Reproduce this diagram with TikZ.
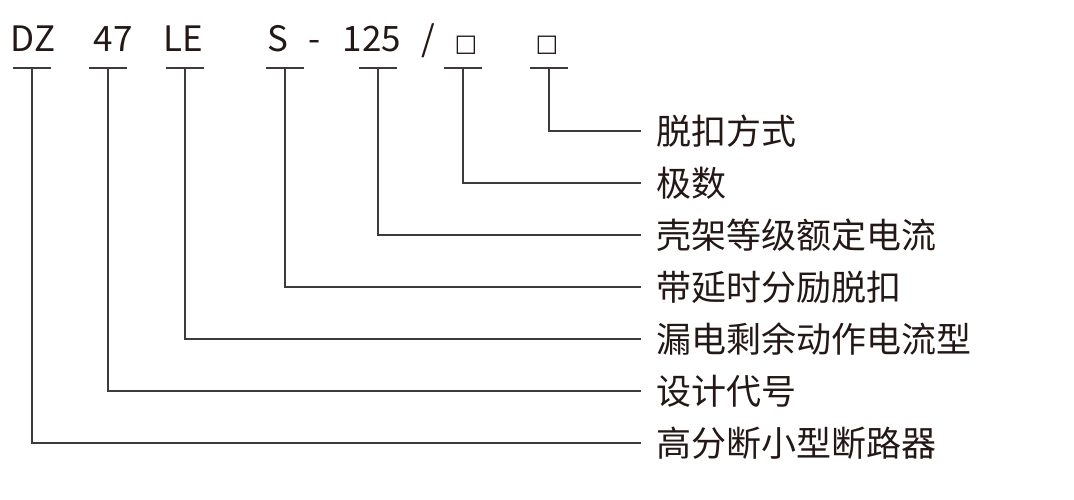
\documentclass[tikz,border=0pt]{standalone}
\usepackage{fontspec}
\newfontfamily\cjk{Noto Sans CJK SC}
\newfontfamily\symb{DejaVu Sans}
\definecolor{ink}{HTML}{231815}
\definecolor{wire}{HTML}{3E3A39}
\begin{document}
\begin{tikzpicture}[x=1pt,y=-1pt,
    code/.style={anchor=base, inner sep=0pt, text=ink, font=\cjk\fontsize{35}{35}\selectfont},
    blank/.style={anchor=base, inner sep=0pt, text=ink, font=\symb\fontsize{24}{24}\selectfont},
    part/.style={anchor=west, inner sep=0pt, outer xsep=15pt, text=ink, font=\cjk\fontsize{35}{35}\selectfont},
    wire/.style={line width=1.4pt, draw=wire}]
    \useasboundingbox (0,0) rectangle (1074,500);
    % model code
    \node[code] (dz) at (33,52) {DZ};
    \node[code] (n47) at (113,52) {47};
    \node[code] (le) at (183,52) {LE};
    \node[code] (s) at (278,52) {S};
    \node[code] (dash) at (315,52) {-};
    \node[code] (i125) at (372,52) {125};
    \node[code] (slash) at (428,52) {/};
    \node[blank] (p1) at (466,52) {□};
    \node[blank] (p2) at (547,52) {□};
    % underlines
    \coordinate (u1) at (32,68);
    \coordinate (u2) at (108,68);
    \coordinate (u3) at (185,68);
    \coordinate (u4) at (285,68);
    \coordinate (u5) at (378,68);
    \coordinate (u6) at (463,68);
    \coordinate (u7) at (549,68);
    \draw[wire] ([xshift=-19pt]u1) -- ([xshift=19pt]u1);
    \draw[wire] ([xshift=-19pt]u2) -- ([xshift=19pt]u2);
    \draw[wire] ([xshift=-19pt]u3) -- ([xshift=19pt]u3);
    \draw[wire] ([xshift=-19pt]u4) -- ([xshift=19pt]u4);
    \draw[wire] ([xshift=-19pt]u5) -- ([xshift=19pt]u5);
    \draw[wire] ([xshift=-19pt]u6) -- ([xshift=19pt]u6);
    \draw[wire] ([xshift=-19pt]u7) -- ([xshift=19pt]u7);
    % meanings
    \node[part] (r1) at (641,131) {脱扣方式};
    \node[part] (r2) at (641,183) {极数};
    \node[part] (r3) at (641,235) {壳架等级额定电流};
    \node[part] (r4) at (641,287) {带延时分励脱扣};
    \node[part] (r5) at (641,339) {漏电剩余动作电流型};
    \node[part] (r6) at (641,391) {设计代号};
    \node[part] (r7) at (641,443) {高分断小型断路器};
    % leaders
    \draw[wire] (u7) |- (r1.west);
    \draw[wire] (u6) |- (r2.west);
    \draw[wire] (u5) |- (r3.west);
    \draw[wire] (u4) |- (r4.west);
    \draw[wire] (u3) |- (r5.west);
    \draw[wire] (u2) |- (r6.west);
    \draw[wire] (u1) |- (r7.west);
\end{tikzpicture}
\end{document}
